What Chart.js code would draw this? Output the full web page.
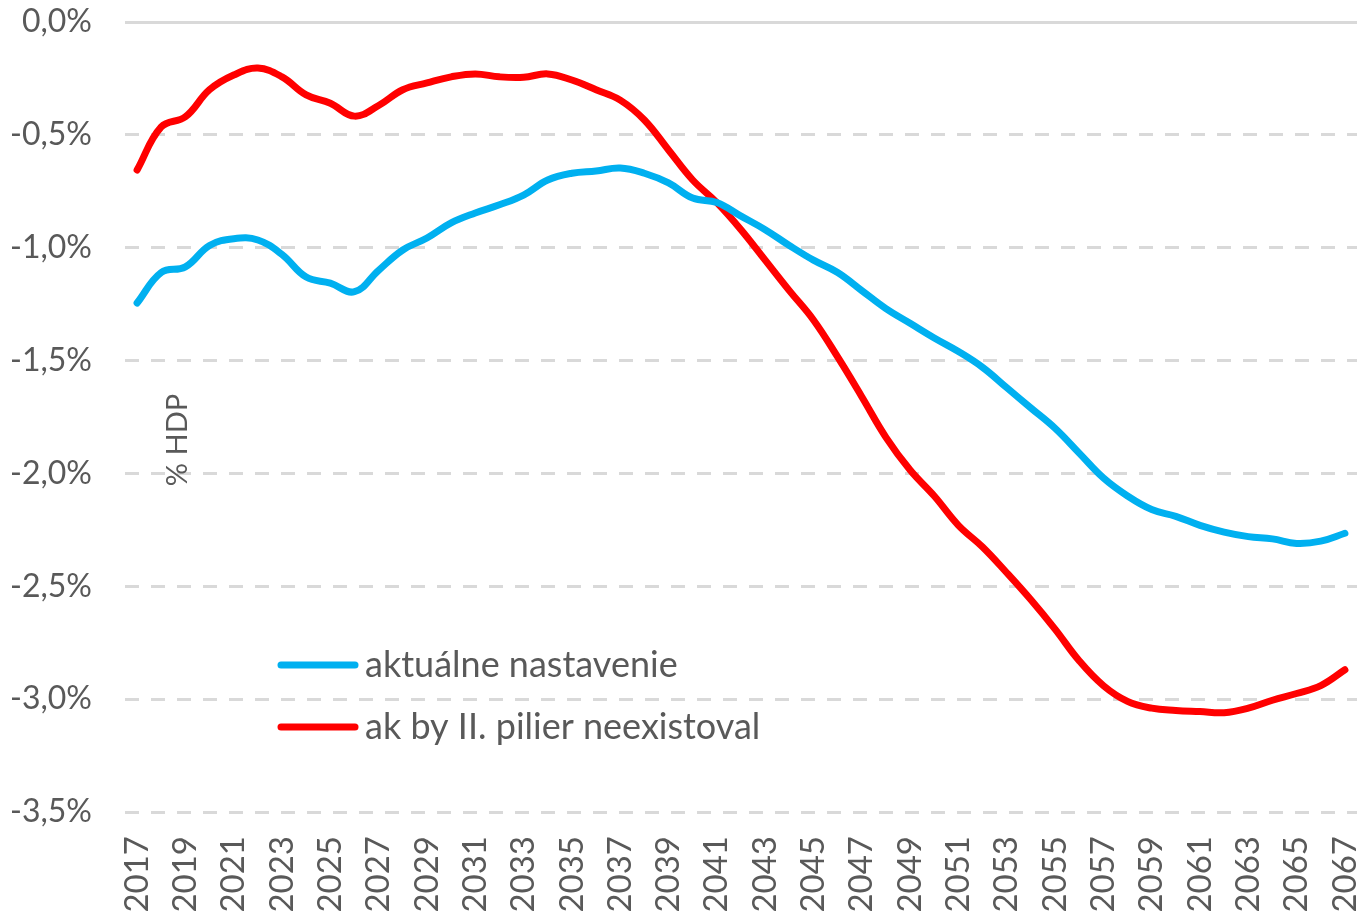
<!DOCTYPE html>
<html>
<head>
<meta charset="utf-8">
<script src="https://cdn.jsdelivr.net/npm/chart.js@4.4.1/dist/chart.umd.min.js"></script>
<style>
	html, body { margin: 0; padding: 0; background: #fff; }
	#wrap { width: 1361px; height: 917px; position: relative; }
</style>
</head>
<body>
<div id="wrap"><canvas id="chart" width="1361" height="917"></canvas></div>
<script>
// Years on the x axis
var years = [];
for (var y = 2017; y <= 2067; y++) years.push(String(y));

// Balance in % of GDP
var aktualne = [
	-1.245, -1.11, -1.085, -0.99, -0.96, -0.966, -1.03, -1.13, -1.157, -1.195,
	-1.10, -1.01, -0.957, -0.89, -0.846, -0.81, -0.767, -0.70, -0.67, -0.66,
	-0.647, -0.67, -0.713, -0.78, -0.80, -0.86, -0.92, -0.99, -1.055, -1.11,
	-1.19, -1.27, -1.335, -1.40, -1.46, -1.53, -1.62, -1.71, -1.80, -1.91,
	-2.02, -2.10, -2.16, -2.19, -2.23, -2.26, -2.28, -2.29, -2.31, -2.30,
	-2.265
];
var bezPilieru = [
	-0.656, -0.465, -0.42, -0.30, -0.235, -0.204, -0.243, -0.323, -0.36, -0.417,
	-0.37, -0.30, -0.27, -0.243, -0.23, -0.243, -0.245, -0.23, -0.257, -0.30,
	-0.346, -0.434, -0.567, -0.70, -0.80, -0.92, -1.055, -1.19, -1.32, -1.484,
	-1.66, -1.84, -1.985, -2.10, -2.23, -2.326, -2.44, -2.56, -2.69, -2.83,
	-2.94, -3.01, -3.04, -3.05, -3.055, -3.06, -3.04, -3.005, -2.975, -2.94,
	-2.87
];

var seriesNames = ['aktuálne nastavenie', 'ak by II. pilier neexistoval'];
var seriesColors = ['#00b0f0', '#ff0000'];
var axisTitle = '% HDP';

var textColor = '#595959';
var fontFamily = 'Lato, "Open Sans", sans-serif';

// Legend and axis title drawn inside the plot area
var insideLabels = {
	id: 'insideLabels',
	afterDatasetsDraw: function(chart) {
		var ctx = chart.ctx;
		var area = chart.chartArea;
		ctx.save();
		ctx.font = '36px ' + fontFamily;
		ctx.textBaseline = 'middle';
		ctx.textAlign = 'left';
		for (var i = 0; i < seriesNames.length; i++) {
			var ly = 665 + i * 62;
			ctx.strokeStyle = seriesColors[i];
			ctx.lineWidth = 7;
			ctx.lineCap = 'round';
			ctx.beginPath();
			ctx.moveTo(area.left + 156, ly);
			ctx.lineTo(area.left + 230, ly);
			ctx.stroke();
			ctx.fillStyle = textColor;
			ctx.fillText(seriesNames[i], area.left + 240, ly);
		}
		// rotated axis title
		ctx.translate(area.left + 53, 440);
		ctx.rotate(-Math.PI / 2);
		ctx.textAlign = 'center';
		ctx.font = '29px ' + fontFamily;
		ctx.fillText(axisTitle, 0, 0);
		ctx.restore();
	}
};

var chart = new Chart(document.getElementById('chart'), {
	type: 'line',
	data: {
		labels: years,
		datasets: [
			{
				label: seriesNames[0],
				data: aktualne,
				borderColor: seriesColors[0],
				borderWidth: 7,
				pointRadius: 0,
				tension: 0.4,
				borderCapStyle: 'round',
				fill: false
			},
			{
				label: seriesNames[1],
				data: bezPilieru,
				borderColor: seriesColors[1],
				borderWidth: 7,
				pointRadius: 0,
				tension: 0.4,
				borderCapStyle: 'round',
				fill: false
			}
		]
	},
	options: {
		responsive: false,
		animation: false,
		layout: { padding: { top: 22, right: 4, left: 0, bottom: 0 } },
		plugins: {
			legend: { display: false },
			tooltip: { enabled: false }
		},
		scales: {
			x: {
				offset: true,
				grid: { display: false, drawTicks: false },
				border: { display: false },
				ticks: {
					autoSkip: false,
					maxRotation: 90,
					minRotation: 90,
					padding: 24,
					color: textColor,
					font: { family: fontFamily, size: 33 },
					callback: function(val, idx) {
						return idx % 2 === 0 ? this.getLabelForValue(val) : '';
					}
				},
				afterFit: function(scale) {
					scale.height = 105;
					scale.paddingLeft = 0;
					scale.paddingRight = 0;
				}
			},
			y: {
				min: -3.5,
				max: 0,
				grid: {
					color: '#d9d9d9',
					lineWidth: 3,
					drawTicks: false
				},
				border: {
					display: false,
					dash: function(ctx) {
						return ctx.tick && ctx.tick.value === 0 ? [] : [14, 12];
					}
				},
				ticks: {
					stepSize: 0.5,
					padding: 33,
					color: textColor,
					font: { family: fontFamily, size: 32 },
					callback: function(v) {
						return v.toFixed(1).replace('.', ',') + '%';
					}
				},
				afterFit: function(scale) {
					scale.width = 125;
					scale.paddingTop = 0;
					scale.paddingBottom = 0;
				}
			}
		}
	},
	plugins: [insideLabels]
});
</script>
</body>
</html>
